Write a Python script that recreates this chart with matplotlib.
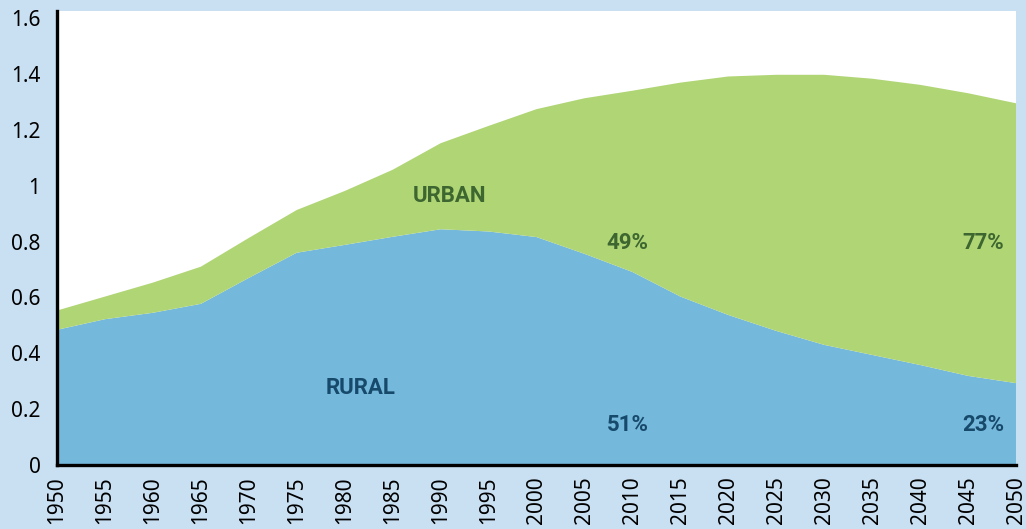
import matplotlib
matplotlib.use("Agg")
import matplotlib.pyplot as plt
import numpy as np

years = [1950, 1955, 1960, 1965, 1970, 1975, 1980, 1985, 1990, 1995, 2000,
         2005, 2010, 2015, 2020, 2025, 2030, 2035, 2040, 2045, 2050]
rural = [0.484, 0.522, 0.545, 0.577, 0.670, 0.760, 0.788, 0.817, 0.844, 0.836, 0.816,
         0.756, 0.691, 0.603, 0.537, 0.480, 0.430, 0.394, 0.358, 0.319, 0.293]
total = [0.553, 0.603, 0.653, 0.710, 0.813, 0.913, 0.981, 1.057, 1.152, 1.214, 1.274,
         1.313, 1.340, 1.369, 1.391, 1.397, 1.397, 1.383, 1.361, 1.331, 1.295]
urban = [t - r for t, r in zip(total, rural)]
yticks = [0, 0.2, 0.4, 0.6, 0.8, 1.0, 1.2, 1.4, 1.6]
ytick_labels = ["0", "0.2", "0.4", "0.6", "0.8", "1", "1.2", "1.4", "1.6"]

BG = "#C9E0F2"
BLUE = "#74B8DC"
GREEN = "#B0D575"
DKGREEN = "#3D6630"
DKBLUE = "#17496A"

fig = plt.figure(figsize=(10.26, 5.29), dpi=100, facecolor=BG)
ax = fig.add_axes([0.0556, 0.121, 0.9347, 0.858])
ax.set_facecolor("white")
ax.stackplot(years, rural, urban, colors=[BLUE, GREEN], linewidth=0)

ax.set_xlim(1950, 2050)
ax.set_ylim(0, 1.625)
ax.set_xticks(years)
ax.set_xticklabels([str(y) for y in years], rotation=90, family="Noto Sans", fontsize=15)
ax.set_yticks(yticks)
ax.set_yticklabels(ytick_labels, family="Noto Sans", fontsize=15)
ax.tick_params(axis="y", length=0, pad=12)
ax.tick_params(axis="x", length=0, pad=8)
for s in ["top", "right"]:
    ax.spines[s].set_visible(False)
for s in ["left", "bottom"]:
    ax.spines[s].set_linewidth(2.4)
    ax.spines[s].set_color("black")

lab = dict(family="Roboto", fontweight="bold", fontsize=16, ha="center", va="center")
ax.text(1990.9, 0.963, "URBAN", color=DKGREEN, **lab)
ax.text(1981.7, 0.276, "RURAL", color=DKBLUE, **lab)
ax.text(2009.5, 0.795, "49%", color=DKGREEN, **lab)
ax.text(2009.5, 0.143, "51%", color=DKBLUE, **lab)
ax.text(2046.6, 0.795, "77%", color=DKGREEN, **lab)
ax.text(2046.6, 0.143, "23%", color=DKBLUE, **lab)

fig.savefig("out.png", dpi=100, facecolor=BG)
